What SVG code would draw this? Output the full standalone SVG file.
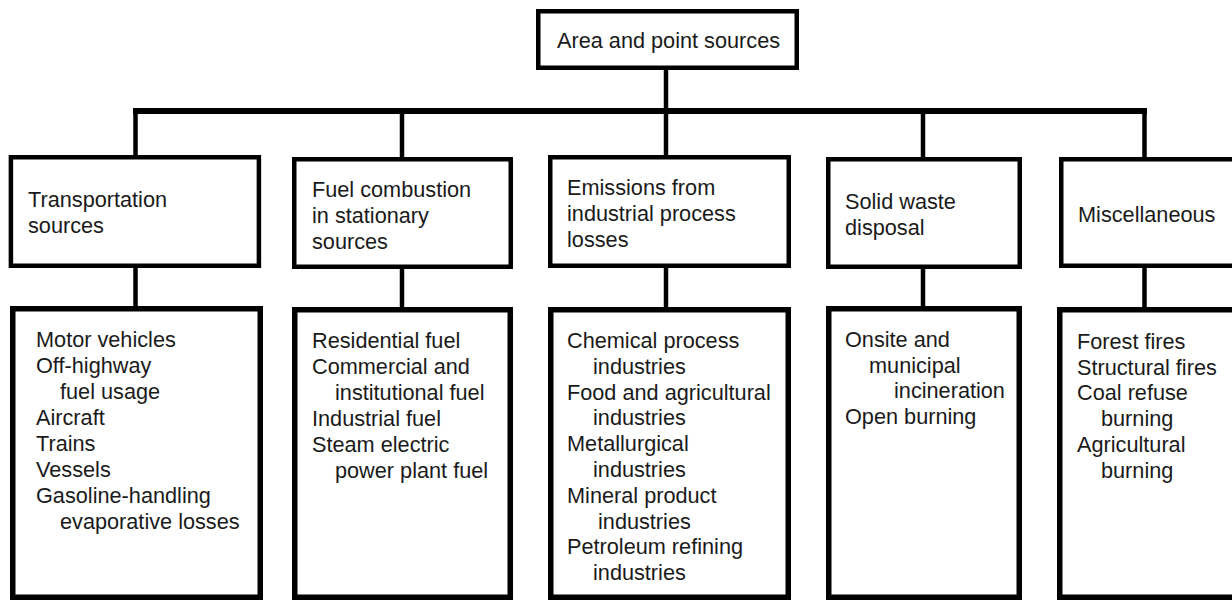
<svg xmlns="http://www.w3.org/2000/svg" width="1232" height="600" viewBox="0 0 1232 600">
<style>
.box{fill:#fff;stroke:#000;stroke-width:4.5}
.box2{fill:#fff;stroke:#000;stroke-width:5.5}
.t{font-family:"Liberation Sans",Arial,sans-serif;font-size:21.7px;fill:#1a1a1a}
.c{stroke:#000;stroke-width:4.5;fill:none}
.bus{stroke:#000;stroke-width:6;fill:none}
</style>
<rect width="1232" height="600" fill="#fff"/>
<g id="connectors">
<line class="c" x1="666" y1="68" x2="666" y2="111"/>
<line class="bus" x1="133" y1="111" x2="1147" y2="111"/>
<line class="c" x1="135.5" y1="111" x2="135.5" y2="158"/>
<line class="c" x1="402" y1="111" x2="402" y2="160"/>
<line class="c" x1="666" y1="111" x2="666" y2="158"/>
<line class="c" x1="923" y1="111" x2="923" y2="160"/>
<line class="c" x1="1144.5" y1="111" x2="1144.5" y2="160"/>
<line class="c" x1="135.5" y1="266" x2="135.5" y2="309"/>
<line class="c" x1="402" y1="267" x2="402" y2="310"/>
<line class="c" x1="666" y1="266" x2="666" y2="310"/>
<line class="c" x1="923" y1="267" x2="923" y2="309"/>
<line class="c" x1="1144.5" y1="266" x2="1144.5" y2="310"/>
</g>
<g id="root">
<rect class="box" x="538.25" y="11.25" width="258.5" height="56.5"/>
<text class="t" x="557" y="48">Area and point sources</text>
</g>
<g id="transportation">
<rect class="box" x="10.9" y="157.25" width="248" height="108.5"/>
<text class="t"><tspan x="28" y="207">Transportation</tspan><tspan x="28" y="233">sources</tspan></text>
</g>
<g id="fuel">
<rect class="box" x="294.25" y="159.25" width="216.5" height="107.5"/>
<text class="t"><tspan x="312" y="197">Fuel combustion</tspan><tspan x="312" y="223">in stationary</tspan><tspan x="312" y="249">sources</tspan></text>
</g>
<g id="emissions">
<rect class="box" x="550.25" y="157.25" width="238.5" height="108.5"/>
<text class="t"><tspan x="567" y="195">Emissions from</tspan><tspan x="567" y="221">industrial process</tspan><tspan x="567" y="247">losses</tspan></text>
</g>
<g id="solid">
<rect class="box" x="828.25" y="159.25" width="191.5" height="107.5"/>
<text class="t"><tspan x="845" y="209">Solid waste</tspan><tspan x="845" y="235">disposal</tspan></text>
</g>
<g id="misc">
<rect class="box" x="1061.25" y="159.25" width="200" height="106.5"/>
<text class="t" x="1078" y="222">Miscellaneous</text>
</g>
<g id="transportation-list">
<rect class="box2" x="12.75" y="308.75" width="247.5" height="288.5"/>
<text class="t"><tspan x="36" y="346.5">Motor vehicles</tspan><tspan x="36" y="372.5">Off-highway</tspan><tspan x="60" y="398.5">fuel usage</tspan><tspan x="36" y="424.5">Aircraft</tspan><tspan x="36" y="450.5">Trains</tspan><tspan x="36" y="476.5">Vessels</tspan><tspan x="36" y="502.5">Gasoline-handling</tspan><tspan x="60" y="528.5">evaporative losses</tspan></text>
</g>
<g id="fuel-list">
<rect class="box2" x="294.75" y="309.75" width="215.5" height="287.5"/>
<text class="t"><tspan x="312" y="348">Residential fuel</tspan><tspan x="312" y="374">Commercial and</tspan><tspan x="335" y="400">institutional fuel</tspan><tspan x="312" y="426">Industrial fuel</tspan><tspan x="312" y="452">Steam electric</tspan><tspan x="335" y="478">power plant fuel</tspan></text>
</g>
<g id="emissions-list">
<rect class="box2" x="550.75" y="309.75" width="237.5" height="287.5"/>
<text class="t"><tspan x="567" y="348">Chemical process</tspan><tspan x="593" y="373.8">industries</tspan><tspan x="567" y="399.6">Food and agricultural</tspan><tspan x="593" y="425.4">industries</tspan><tspan x="567" y="451.2">Metallurgical</tspan><tspan x="593" y="477">industries</tspan><tspan x="567" y="502.8">Mineral product</tspan><tspan x="598" y="528.6">industries</tspan><tspan x="567" y="554.4">Petroleum refining</tspan><tspan x="593" y="580.2">industries</tspan></text>
</g>
<g id="solid-list">
<rect class="box2" x="828.75" y="308.75" width="190.5" height="288.5"/>
<text class="t"><tspan x="845" y="347">Onsite and</tspan><tspan x="869" y="372.5">municipal</tspan><tspan x="894" y="398">incineration</tspan><tspan x="845" y="424">Open burning</tspan></text>
</g>
<g id="misc-list">
<rect class="box2" x="1059.75" y="309.75" width="200" height="287.5"/>
<text class="t"><tspan x="1077" y="349">Forest fires</tspan><tspan x="1077" y="374.7">Structural fires</tspan><tspan x="1077" y="400.4">Coal refuse</tspan><tspan x="1101" y="426.1">burning</tspan><tspan x="1077" y="451.8">Agricultural</tspan><tspan x="1101" y="477.5">burning</tspan></text>
</g>
</svg>
